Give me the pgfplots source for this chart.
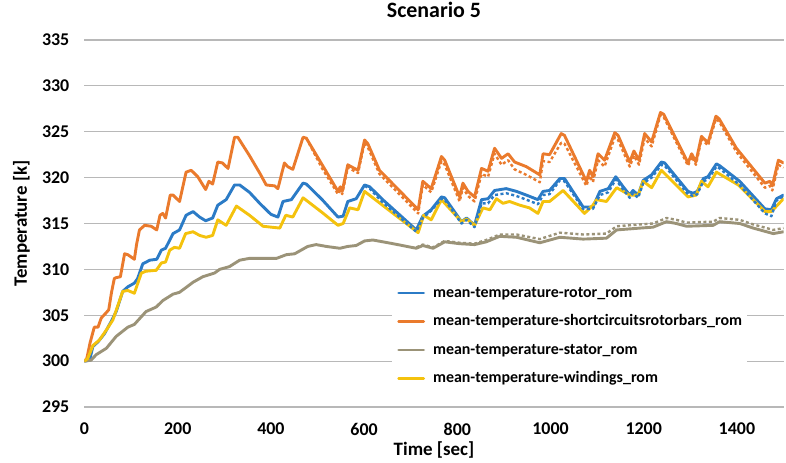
\documentclass[border=0pt]{standalone}
\usepackage{fontspec}
\setmainfont{Carlito}
\usepackage{pgfplots}
\pgfplotsset{compat=1.18}

\definecolor{cRotor}{HTML}{2B7BC6}
\definecolor{cBars}{HTML}{EA7A2C}
\definecolor{cStator}{HTML}{9B9378}
\definecolor{cWind}{HTML}{F4C20D}

\begin{document}
\begin{tikzpicture}
\useasboundingbox (-84.5bp,-56bp) rectangle (701.5bp,407bp);
\begin{axis}[
  scale only axis, width=699bp, height=367bp,
  xmin=0, xmax=1500, ymin=295, ymax=335,
  xtick={0,200,...,1400}, ytick={295,300,...,335},
  axis line style={draw=none}, major tick length=0pt,
  ymajorgrids, grid style={draw=black!28, line width=1.2bp},
  /pgf/number format/assume math mode=true,
  /pgf/number format/1000 sep={},
  tick label style={font=\fontsize{18}{20}\selectfont\bfseries},
  yticklabel style={anchor=east, inner sep=0pt, xshift=-15bp},
  xticklabel style={anchor=north, inner sep=0pt, yshift=-16bp},
  title={Scenario 5},
  title style={font=\fontsize{22}{24}\selectfont\bfseries, at={(axis description cs:0.5,1)}, anchor=center, yshift=24bp},
  xlabel={Time [sec]},
  xlabel style={font=\fontsize{19}{22}\selectfont\bfseries, at={(axis description cs:0.5,0)}, anchor=north, inner sep=0pt, yshift=-34bp},
  ylabel={Temperature [k]},
  ylabel style={font=\fontsize{19}{22}\selectfont\bfseries, at={(axis description cs:0,0.5)}, anchor=center, inner sep=0pt, yshift=63bp},
  legend style={at={(axis description cs:0.44,0.346)}, anchor=north west, draw=none, fill=white,
    font=\fontsize{16}{18}\selectfont\bfseries, inner sep=5bp, row sep=13bp, column sep=8bp,
    nodes={inner sep=0pt, text height=12bp, text depth=3.5bp}},
  legend cell align=left,
  legend image code/.code={\draw[#1, line width=2.8bp] (0bp,0bp) -- (25bp,0bp);},
  every axis plot/.append style={line join=round, line cap=round},
]
% rotor (solid)
\addplot[cRotor, line width=2.9bp] coordinates {
(0,300.0) (11,300.1) (18,301.6) (29,302.1) (43,303.0) (57,304.3) (68,305.4) (82,307.6) (93,308.1) (107,308.5) (114,309.0) (125,310.6) (140,311.0) (155,311.1) (165,312.1) (174,312.3) (190,313.9) (204,314.3) (218,315.9) (233,316.3) (247,315.7) (260,315.3) (275,315.6) (286,317.0) (304,317.6) (322,319.2) (333,319.2) (354,318.4) (376,317.2) (400,316.0) (415,315.7) (426,317.4) (444,317.6) (469,319.4) (476,319.3) (510,317.6) (544,315.7) (555,315.8) (565,317.4) (583,317.7) (601,319.2) (612,319.0) (640,317.6) (712,314.3) (726,315.8) (744,316.5) (766,317.9) (773,317.8) (809,315.2) (820,315.6) (837,314.8) (852,317.6) (866,317.7) (880,318.6) (905,318.8) (927,318.5) (948,318.1) (973,317.6) (984,318.5) (998,318.6) (1020,319.9) (1030,319.9) (1070,316.8) (1091,316.8) (1106,318.5) (1124,318.8) (1140,320.1) (1156,319.0) (1170,318.1) (1177,318.6) (1188,318.1) (1199,319.7) (1217,320.3) (1238,321.7) (1245,321.6) (1295,318.5) (1306,318.3) (1315,318.5) (1328,319.9) (1338,320.1) (1356,321.5) (1363,321.3) (1406,319.6) (1460,316.6) (1474,316.5) (1485,317.7) (1500,318.1)};
\addlegendentry{mean-temperature-rotor\_rom}
% short circuits rotor bars (solid)
\addplot[cBars, line width=2.9bp] coordinates {
(0,300.0) (5,300.3) (12,302.0) (21,303.7) (29,303.7) (36,304.7) (47,305.3) (52,305.6) (58,307.5) (64,309.0) (68,309.1) (77,309.2) (86,311.7) (93,311.6) (107,311.1) (112,312.8) (118,314.3) (129,314.8) (143,314.7) (155,314.3) (162,315.9) (168,316.1) (174,315.6) (184,318.1) (190,318.1) (204,317.4) (218,320.6) (229,320.8) (243,320.1) (260,318.7) (267,319.6) (275,319.3) (286,321.7) (296,321.6) (308,321.0) (322,324.4) (329,324.4) (354,322.4) (376,320.5) (390,319.2) (408,319.1) (415,318.8) (429,321.6) (436,321.2) (447,320.9) (469,324.4) (476,324.3) (510,321.4) (544,318.5) (549,319.0) (553,318.5) (565,321.4) (572,321.2) (587,320.8) (601,324.1) (608,323.7) (633,320.8) (716,316.5) (726,319.6) (744,318.8) (766,322.3) (773,321.9) (805,317.9) (812,319.4) (823,318.5) (837,317.9) (852,321.0) (866,320.7) (880,323.2) (895,322.1) (909,322.6) (923,321.7) (948,321.2) (977,320.3) (984,322.6) (998,322.5) (1023,324.8) (1030,324.6) (1077,319.6) (1084,320.8) (1091,320.1) (1102,322.6) (1116,321.9) (1138,324.9) (1145,324.6) (1170,321.7) (1179,322.9) (1190,321.9) (1202,324.8) (1217,323.9) (1236,327.1) (1243,326.9) (1295,321.6) (1303,322.6) (1312,321.7) (1324,324.5) (1338,323.8) (1355,326.7) (1362,326.4) (1399,323.2) (1460,319.4) (1471,319.6) (1476,319.1) (1489,321.9) (1500,321.6)};
\addlegendentry{mean-temperature-shortcircuitsrotorbars\_rom}
% stator (solid)
\addplot[cStator, line width=2.9bp] coordinates {
(0,300.0) (14,300.1) (25,300.7) (47,301.4) (68,302.7) (93,303.7) (107,304.0) (132,305.4) (154,305.9) (168,306.6) (190,307.3) (204,307.5) (233,308.6) (254,309.2) (279,309.6) (290,310.0) (311,310.3) (333,311.0) (354,311.2) (412,311.2) (433,311.6) (451,311.7) (479,312.5) (497,312.7) (519,312.5) (548,312.3) (565,312.5) (583,312.6) (601,313.1) (619,313.2) (662,312.8) (712,312.3) (726,312.6) (748,312.3) (773,313.0) (805,312.8) (837,312.7) (862,313.0) (891,313.6) (927,313.5) (977,312.9) (1020,313.5) (1070,313.3) (1120,313.4) (1142,314.3) (1192,314.5) (1220,314.6) (1249,315.2) (1270,315.0) (1292,314.7) (1349,314.8) (1363,315.2) (1406,315.0) (1435,314.5) (1478,313.9) (1500,314.1)};
\addlegendentry{mean-temperature-stator\_rom}
% windings (solid)
\addplot[cWind, line width=2.9bp] coordinates {
(0,300.0) (7,300.3) (18,301.7) (32,302.3) (47,303.4) (61,304.5) (82,307.6) (93,307.7) (107,307.4) (122,309.6) (132,309.8) (154,309.9) (165,310.7) (174,310.8) (183,312.1) (193,312.4) (204,312.3) (217,313.9) (233,314.1) (247,313.7) (261,313.5) (275,313.7) (286,315.4) (304,314.8) (326,316.9) (354,315.9) (376,315.0) (383,314.7) (419,314.5) (432,315.9) (447,315.7) (469,317.8) (510,316.2) (544,314.8) (555,315.0) (569,316.7) (587,316.5) (601,318.5) (716,314.0) (728,315.9) (744,315.4) (766,317.6) (809,315.2) (820,315.5) (837,314.8) (855,316.7) (870,316.5) (884,317.7) (898,317.2) (912,317.4) (934,317.0) (955,316.7) (973,316.1) (984,317.4) (998,317.4) (1027,318.6) (1073,316.1) (1091,317.0) (1099,317.6) (1120,317.4) (1142,318.9) (1170,318.1) (1188,318.1) (1199,319.6) (1217,318.9) (1238,320.8) (1295,317.9) (1313,318.1) (1324,319.6) (1338,319.0) (1356,320.6) (1403,319.2) (1460,316.3) (1474,316.3) (1500,317.7)};
\addlegendentry{mean-temperature-windings\_rom}
% reference counterparts (dotted, not in legend)
\addplot[cRotor, line width=2.4bp, line cap=butt, dash pattern=on 3bp off 2.5bp, forget plot] coordinates {
(601,319.1) (612,318.8) (640,317.3) (712,314.1) (726,315.6) (744,316.4) (766,317.7) (773,317.6) (809,315.0) (820,315.4) (837,314.6) (852,317.2) (866,317.2) (880,318.1) (905,318.3) (927,318.0) (948,317.6) (973,317.1) (984,318.1) (998,318.2) (1020,319.7) (1030,319.6) (1070,316.6) (1091,316.6) (1106,318.1) (1124,318.4) (1140,319.8) (1156,318.7) (1170,317.8) (1177,318.3) (1188,317.8) (1199,319.4) (1217,320.0) (1238,321.4) (1245,321.3) (1295,318.2) (1306,318.0) (1315,318.2) (1328,319.6) (1338,319.8) (1356,321.2) (1363,321.0) (1406,319.2) (1460,316.1) (1474,315.8) (1485,317.5) (1500,318.0)};
\addplot[cBars, line width=2.4bp, line cap=butt, dash pattern=on 3bp off 2.5bp, forget plot] coordinates {
(476,324.3) (510,321.0) (544,318.2) (549,318.6) (553,318.2) (565,321.1) (572,320.9) (587,320.5) (601,323.8) (608,323.3) (633,320.4) (716,316.1) (726,319.2) (744,318.4) (766,321.8) (773,321.4) (805,317.4) (812,318.9) (823,318.0) (837,317.4) (852,320.4) (866,320.1) (880,322.6) (895,321.4) (909,321.9) (923,320.9) (948,320.3) (977,319.5) (984,321.8) (998,321.7) (1023,323.8) (1030,323.7) (1077,319.1) (1084,320.2) (1091,319.5) (1102,321.9) (1116,321.2) (1138,324.4) (1145,324.1) (1170,321.2) (1179,322.4) (1190,321.4) (1202,324.3) (1217,323.4) (1236,326.8) (1243,326.6) (1295,321.3) (1303,322.3) (1312,321.4) (1324,324.2) (1338,323.5) (1355,326.4) (1362,326.1) (1399,322.8) (1460,318.9) (1471,319.1) (1476,318.6) (1489,321.4) (1500,321.1)};
\addplot[cStator, line width=2.4bp, line cap=butt, dash pattern=on 3bp off 2.5bp, forget plot] coordinates {
(712,312.4) (726,312.7) (748,312.4) (773,313.1) (805,312.9) (837,312.8) (862,313.2) (891,313.8) (927,313.8) (977,313.3) (1020,314.0) (1070,313.8) (1120,313.9) (1142,314.7) (1192,314.9) (1220,315.0) (1249,315.6) (1270,315.4) (1292,315.1) (1349,315.2) (1363,315.6) (1406,315.4) (1435,314.9) (1478,314.3) (1500,314.5)};
\end{axis}
\end{tikzpicture}
\end{document}
